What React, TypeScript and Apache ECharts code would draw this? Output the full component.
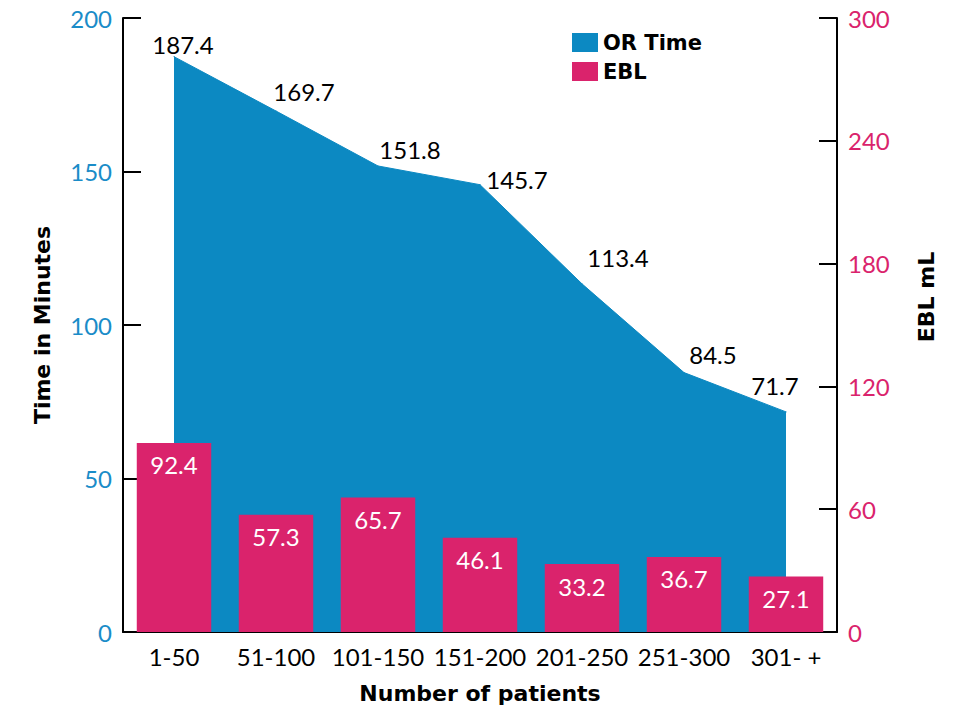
import React, { useEffect, useRef } from "react";
import * as echarts from "echarts";

const categories = ["1-50", "51-100", "101-150", "151-200", "201-250", "251-300", "301- +"];
const orTime = [187.4, 169.7, 151.8, 145.7, 113.4, 84.5, 71.7];
const ebl = [92.4, 57.3, 65.7, 46.1, 33.2, 36.7, 27.1];
const orLabelOffsets = [[9, 5], [28, -2], [32, 1], [37, 12], [36, -9], [29, -1], [-11, -9]];

const BLUE = "#0c89c2";
const PINK = "#da236c";
const FONT = "Lato";
const BOLD_FONT = "DejaVu Sans";

export default function App() {
  const ref = useRef<HTMLDivElement>(null);
  useEffect(() => {
    const chart = echarts.init(ref.current!, null, { renderer: "svg" });
    chart.setOption({
      animation: false,
      textStyle: { fontFamily: FONT },
      legend: {
        orient: "vertical",
        left: 567,
        top: 27,
        itemWidth: 26,
        itemHeight: 19,
        itemGap: 8,
        icon: "rect",
        textStyle: { fontFamily: BOLD_FONT, fontSize: 21, fontWeight: "bold", color: "#000" },
        data: ["OR Time", "EBL"],
      },
      grid: { left: 123, right: 127, top: 18, bottom: 78, containLabel: false },
      xAxis: {
        type: "category",
        data: categories,
        boundaryGap: true,
        axisLine: { lineStyle: { color: "#000", width: 2 } },
        axisTick: { show: false },
        axisLabel: { color: "#000", fontSize: 24, fontFamily: FONT, margin: 12, interval: 0 },
        name: "Number of patients",
        nameLocation: "middle",
        nameGap: 50,
        nameTextStyle: { color: "#000", fontSize: 22, fontWeight: "bold", fontFamily: BOLD_FONT },
      },
      yAxis: [
        {
          type: "value",
          min: 0,
          max: 200,
          interval: 50,
          splitLine: { show: false },
          axisLine: { show: true, lineStyle: { color: "#000", width: 2 } },
          axisTick: { show: true, inside: true, length: 18, lineStyle: { color: "#000", width: 2 } },
          axisLabel: { color: "#1a8cc8", fontSize: 24, fontFamily: FONT, margin: 11, padding: [5, 0, 0, 0] },
          name: "Time in Minutes",
          nameLocation: "middle",
          nameRotate: 90,
          nameGap: 70,
          nameTextStyle: { color: "#000", fontSize: 22, fontWeight: "bold", fontFamily: BOLD_FONT },
        },
        {
          type: "value",
          min: 0,
          max: 300,
          interval: 60,
          position: "right",
          splitLine: { show: false },
          axisLine: { show: true, lineStyle: { color: "#000", width: 2 } },
          axisTick: { show: true, inside: true, length: 18, lineStyle: { color: "#000", width: 2 } },
          axisLabel: { color: PINK, fontSize: 24, fontFamily: FONT, margin: 11, padding: [5, 0, 0, 0] },
          name: "EBL mL",
          nameLocation: "middle",
          nameRotate: 90,
          nameGap: 78,
          nameTextStyle: { color: "#000", fontSize: 22, fontWeight: "bold", fontFamily: BOLD_FONT, padding: [0, 0, 0, 56] },
        },
      ],
      series: [
        {
          name: "OR Time",
          type: "line",
          yAxisIndex: 0,
          data: orTime.map((v, i) => ({
            value: v,
            label: { offset: orLabelOffsets[i] },
          })),
          symbol: "circle",
          symbolSize: 1,
          showSymbol: true,
          lineStyle: { color: BLUE, width: 1 },
          itemStyle: { color: BLUE },
          areaStyle: { color: BLUE, opacity: 1 },
          label: { show: true, position: "top", color: "#000", fontSize: 24, fontFamily: FONT },
          z: 1,
        },
        {
          name: "EBL",
          type: "bar",
          yAxisIndex: 1,
          data: ebl,
          barCategoryGap: "27%",
          itemStyle: { color: PINK },
          label: { show: true, position: "insideTop", distance: 10, color: "#fff", fontSize: 24, fontFamily: FONT },
          z: 2,
        },
      ],
    });
    return () => chart.dispose();
  }, []);
  return (
    <div
      ref={ref}
      style={{ position: "fixed", left: 0, top: 0, width: 964, height: 710, background: "#fff" }}
    />
  );
}
